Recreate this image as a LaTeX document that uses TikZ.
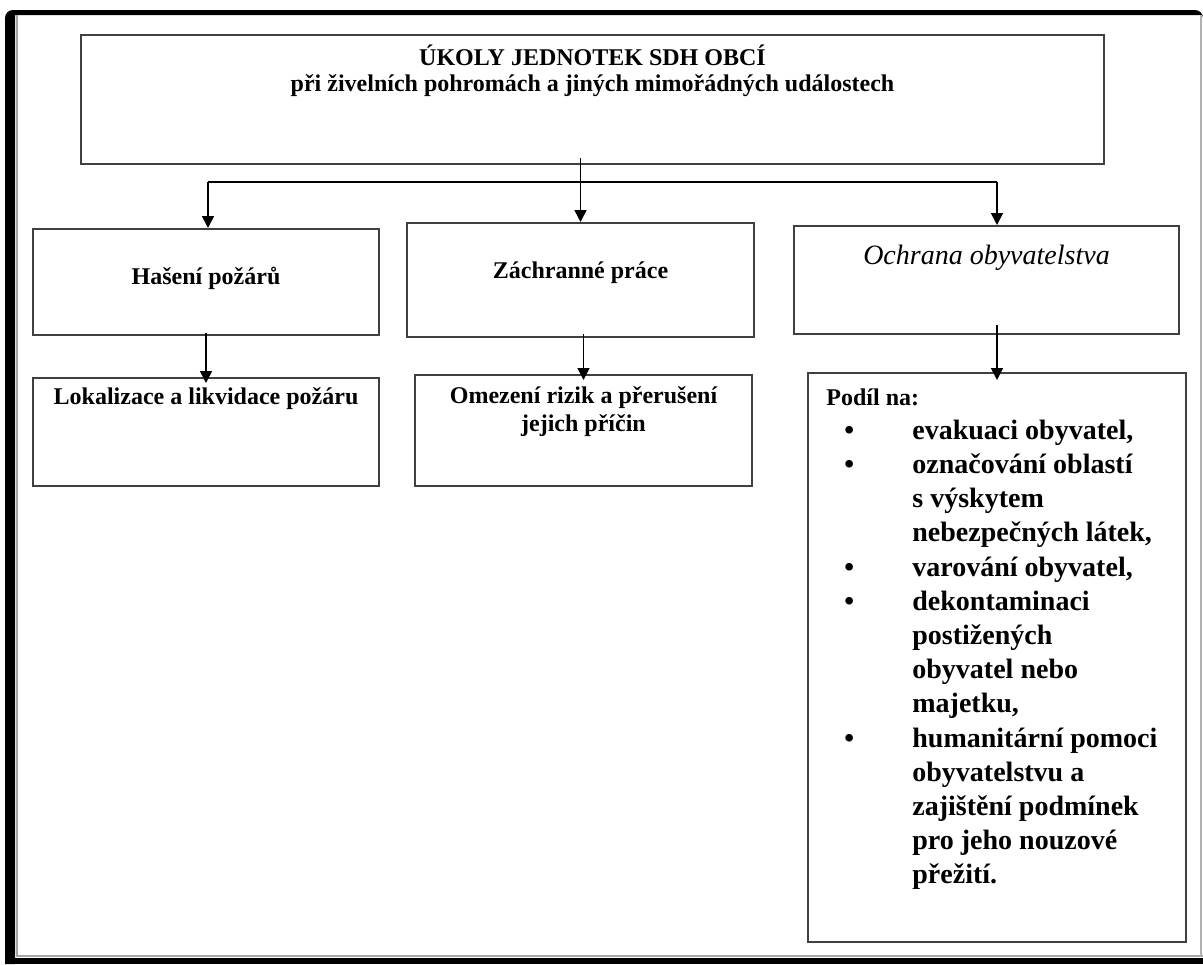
\documentclass[tikz,border=0pt]{standalone}
\usepackage{fontspec}
\setmainfont{Liberation Serif}
\usetikzlibrary{positioning,arrows.meta}

\newcommand{\bodtext}[1]{\hspace*{9pt}\makebox[34pt][l]{\textbullet}#1}
\newcommand{\dalsitext}[1]{\hspace*{43pt}#1}

\begin{document}
\begin{tikzpicture}[x=0.5pt,y=-0.5pt]
        \tikzstyle{box node}=[draw=black!75,line width=1pt,inner sep=0pt]
        \tikzstyle{text node}=[inner sep=0pt,align=center,font=\fontsize{12pt}{13pt}\selectfont\bfseries]
        \tikzstyle{arrow line}=[line width=0.8pt,-{Triangle[length=6pt,width=6pt]}]
        \useasboundingbox (0,0) rectangle (1203,964);
        % frame
        \fill[black] (5,964) [rounded corners=4pt] -- (5,10) -- (1203,10) [sharp corners] -- (1203,15) -- (15,15) -- (15,964) -- cycle;
        \fill[black] (15,958) rectangle (1203,964);
        \draw[black!35,line width=1pt] (17,15) -- (17,956) -- (1203,956);
        \draw[black!30,line width=0.6pt] (1201,15) -- (1201,956);
        % boxes
        \node[box node,minimum width=511.5pt,minimum height=64.5pt] (Ukoly) at (592.5,99.5) {};
        \node[box node,minimum width=173pt,minimum height=53pt] (Haseni) at (206,282) {};
        \node[box node,minimum width=173.5pt,minimum height=57pt] (Zachrana) at (580.5,280) {};
        \node[box node,minimum width=192.5pt,minimum height=54pt] (Ochrana) at (986.5,280) {};
        \node[box node,minimum width=173pt,minimum height=54pt] (Lokalizace) at (206,432) {};
        \node[box node,minimum width=168.5pt,minimum height=55.5pt] (Omezeni) at (583.5,430.5) {};
        \node[box node,minimum width=189pt,minimum height=284.5pt] (Podil) at (997,657.5) {};
        % texts
        \node[text node,below=5.5pt of Ukoly.north] (UkolyText) {ÚKOLY JEDNOTEK SDH OBCÍ\\při živelních pohromách a jiných mimořádných událostech};
        \node[text node,below=19.5pt of Haseni.north] (HaseniText) {Hašení požárů};
        \node[text node,below=19.5pt of Zachrana.north] (ZachranaText) {Záchranné práce};
        \node[text node,below=10pt of Ochrana.north,font=\fontsize{14pt}{16pt}\selectfont\itshape] (OchranaText) {Ochrana obyvatelstva};
        \node[text node,below=5pt of Lokalizace.north] (LokalizaceText) {Lokalizace a likvidace požáru};
        \node[text node,below=6pt of Omezeni.north,font=\fontsize{12pt}{14pt}\selectfont\bfseries] (OmezeniText) {Omezení rizik a přerušení\\jejich příčin};
        \node[text node,align=left,anchor=north west,font=\fontsize{14pt}{17.1pt}\selectfont\bfseries] (PodilText) at ([xshift=9.5pt,yshift=-8pt]Podil.north west) {{\fontsize{12pt}{17pt}\selectfont Podíl na:}\\
                \bodtext{evakuaci obyvatel,}\\
                \bodtext{označování oblastí}\\
                \dalsitext{s výskytem}\\
                \dalsitext{nebezpečných látek,}\\
                \bodtext{varování obyvatel,}\\
                \bodtext{dekontaminaci}\\
                \dalsitext{postižených}\\
                \dalsitext{obyvatel nebo}\\
                \dalsitext{majetku,}\\
                \bodtext{humanitární pomoci}\\
                \dalsitext{obyvatelstvu a}\\
                \dalsitext{zajištění podmínek}\\
                \dalsitext{pro jeho nouzové}\\
                \dalsitext{přežití.}};
        % connectors
        \coordinate (SplitL) at (208,182);
        \coordinate (SplitR) at (997,182);
        \draw[line width=0.8pt] (SplitL) -- (SplitR);
        \draw[arrow line] ([yshift=3.5pt]Ukoly.south -| Zachrana.north) -- (Zachrana.north);
        \draw[arrow line] (SplitL) -- (SplitL |- Haseni.north);
        \draw[arrow line] (SplitR) -- (SplitR |- Ochrana.north);
        \draw[arrow line,shorten >=-3pt] ([yshift=1.5pt]Haseni.south) -- (Lokalizace.north);
        \draw[arrow line,shorten >=-3pt] ([yshift=2pt]Zachrana.south -| Omezeni.north) -- (Omezeni.north);
        \draw[arrow line,shorten >=-4pt] ([yshift=5pt]Ochrana.south -| Podil.north) -- (Podil.north);
    \end{tikzpicture}
\end{document}
